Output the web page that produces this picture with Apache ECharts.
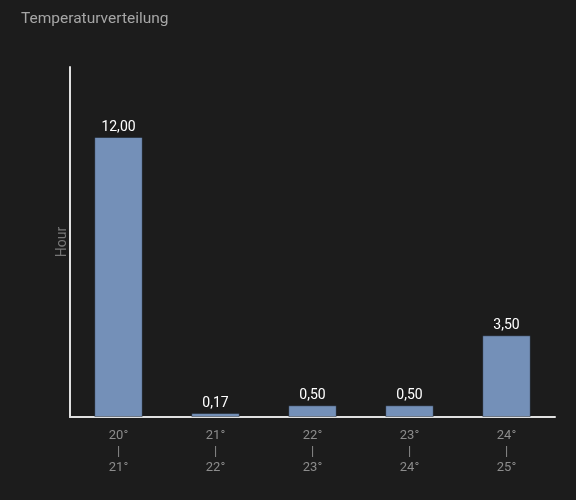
<!DOCTYPE html>
<html>
<head>
<meta charset="utf-8">
<script src="https://cdn.jsdelivr.net/npm/echarts@6/dist/echarts.min.js"></script>
<style>
html,body{margin:0;padding:0;background:#1c1c1c;}
#chart{width:576px;height:500px;}
</style>
</head>
<body>
<div id="chart"></div>
<script>
var categories = ['20°\n|\n21°', '21°\n|\n22°', '22°\n|\n23°', '23°\n|\n24°', '24°\n|\n25°'];
var hours = [12, 0.17, 0.5, 0.5, 3.5];
var yMax = 15;

var myChart = echarts.init(document.getElementById('chart'));
var option = {
    backgroundColor: '#1c1c1c',
    title: {
        text: 'Temperaturverteilung',
        left: 16,
        top: 6,
        textStyle: {
            color: '#a6a6a6',
            fontFamily: 'Roboto',
            fontSize: 15.5,
            fontWeight: 'normal'
        }
    },
    grid: {
        left: 70,
        right: 21,
        top: 67,
        bottom: 83
    },
    xAxis: {
        type: 'category',
        data: categories,
        axisLine: { lineStyle: { color: '#e0e0e0', width: 2 } },
        axisTick: { show: false },
        axisLabel: {
            color: '#8c8c8c',
            fontFamily: 'Roboto',
            fontSize: 13,
            lineHeight: 16,
            margin: 11
        }
    },
    yAxis: {
        type: 'value',
        min: 0,
        max: yMax,
        name: 'Hour',
        nameLocation: 'middle',
        nameGap: 1,
        nameTextStyle: {
            color: '#777777',
            fontFamily: 'Roboto',
            fontSize: 14
        },
        axisLine: { show: true, lineStyle: { color: '#e0e0e0', width: 2 } },
        axisTick: { show: false },
        axisLabel: { show: false },
        splitLine: { show: false }
    },
    series: [
        {
            name: 'Hour',
            type: 'bar',
            data: hours,
            barWidth: '50%',
            itemStyle: {
                color: '#7490b8',
                borderColor: 'rgba(0,0,0,0.35)',
                borderWidth: 1
            },
            label: {
                show: true,
                position: 'top',
                distance: 3,
                color: '#ffffff',
                fontFamily: 'Roboto',
                fontSize: 14,
                formatter: function (p) {
                    return p.value.toFixed(2).replace('.', ',');
                }
            }
        }
    ]
};
myChart.setOption(option);
</script>
</body>
</html>
